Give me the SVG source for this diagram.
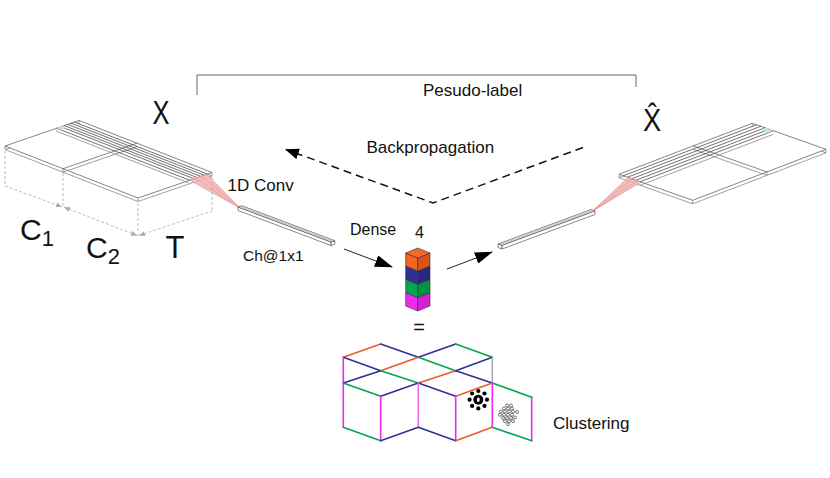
<svg xmlns="http://www.w3.org/2000/svg" width="830" height="478" viewBox="0 0 830 478">
<style>
.lbl{font-family:"Liberation Sans",Arial,sans-serif;fill:#111}
.wf{fill:none;stroke:#777;stroke-width:0.7}
.wft{fill:#fff;stroke:#666;stroke-width:0.8}
.strip{fill:none;stroke:#333;stroke-width:0.7}
.pink{fill:#f2b3b3;fill-opacity:0.85;stroke:#e08a8a;stroke-width:0.6}
.hl{fill:#bfe3f2;stroke:none}
.bar{fill:#fff;stroke:#555;stroke-width:0.7}
.dim{fill:none;stroke:#aaa;stroke-width:0.8;stroke-dasharray:3 2}
.cube{stroke:#3a2a2a;stroke-width:0.6}
.cl{fill:none;stroke-width:1.6;stroke-linecap:round}
.o{stroke:#f15a29}.b{stroke:#2e3192}.g{stroke:#00a651}.m{stroke:#ec2aec}.gr{stroke:#aaa}
.oc{fill:#fff;stroke:#222;stroke-width:0.6}
</style>
<defs>
<marker id="headBig" markerUnits="userSpaceOnUse" markerWidth="18" markerHeight="12" viewBox="0 0 18 12" refX="17" refY="6" orient="auto"><path d="M0,0 L18,6 L0,12 z" fill="#000"/></marker>
<marker id="headBp" markerUnits="userSpaceOnUse" markerWidth="14" markerHeight="11" viewBox="0 0 14 11" refX="13" refY="5.5" orient="auto"><path d="M0,0 L14,5.5 L0,11 z" fill="#000"/></marker>
<marker id="headDim" markerUnits="userSpaceOnUse" markerWidth="6" markerHeight="5" viewBox="0 0 6 5" refX="6" refY="2.5" orient="auto-start-reverse"><path d="M0,0 L6,2.5 L0,5 z" fill="#aaa"/></marker>
</defs>

<!-- Input slab X -->
<g id="input-slab">
  <polygon class="wf" points="5,149.5 79,124 212,176 138,201.5"/>
  <polygon class="wft" points="5,146 79,120.5 212,172.5 138,198"/>
  <line class="wf" x1="5" y1="146" x2="5" y2="149.5"/>
  <line class="wf" x1="138" y1="198" x2="138" y2="201.5"/>
  <line class="wf" x1="212" y1="172.5" x2="212" y2="176"/>
  <line class="wf" x1="79" y1="120.5" x2="79" y2="124"/>
  <line class="wf" x1="63" y1="168.7" x2="137" y2="143.2" style="stroke:#555"/>
  <line class="wf" x1="63" y1="172.2" x2="137" y2="146.7"/>
  <line class="wf" x1="63" y1="168.7" x2="63" y2="172.2"/>
  <line class="strip" x1="74.4" y1="122" x2="207.4" y2="174"/>
  <line class="strip" x1="70.9" y1="123.1" x2="203.9" y2="175.1"/>
  <line class="strip" x1="67.5" y1="124.3" x2="200.5" y2="176.3"/>
  <line class="strip" x1="64" y1="125.5" x2="197" y2="177.5"/>
  <line class="strip" x1="60.6" y1="126.6" x2="193.6" y2="178.6"/>
  <line class="strip" x1="56" y1="128" x2="189" y2="180"/>
  <line class="wf" x1="56" y1="131" x2="189" y2="183"/>
  <polygon class="hl" points="61.7,126.1 56,128 60.7,129.8 66.5,127.9"/>
  <polygon class="pink" points="189,179.8 207,174.3 240,208"/>
  <line x1="195" y1="178" x2="240" y2="208" stroke="#d88" stroke-width="0.5"/>
  <line x1="201" y1="176.2" x2="240" y2="208" stroke="#d88" stroke-width="0.5"/>
  <line class="dim" x1="5" y1="151" x2="5" y2="186"/>
  <line class="dim" x1="63" y1="173" x2="63" y2="207"/>
  <line class="dim" x1="138" y1="203" x2="138" y2="236"/>
  <line class="dim" x1="212" y1="177" x2="212" y2="211"/>
  <line class="dim" x1="5" y1="186" x2="62" y2="206.8" marker-end="url(#headDim)"/>
  <line class="dim" x1="64" y1="207.2" x2="137" y2="235.5" marker-start="url(#headDim)" marker-end="url(#headDim)"/>
  <line class="dim" x1="139" y1="235.5" x2="212" y2="211" marker-start="url(#headDim)"/>
</g>

<!-- Encoder output bar -->
<g id="encoder-bar">
  <polygon class="bar" points="238,207 331,242 331,245.5 238,210.5"/>
  <polygon class="bar" points="331,242 334.8,240.7 334.8,244.2 331,245.5"/>
  <polygon class="bar" points="238,207 241.8,205.7 334.8,240.7 331,242"/>
  <line x1="239.9" y1="206.35" x2="332.9" y2="241.35" stroke="#777" stroke-width="0.5"/>
</g>

<!-- Latent stack -->
<g id="latent-stack">
  <polygon class="cube" fill="#f26522" points="405.7,253 417.7,258 417.7,271.25 405.7,266.25"/>
  <polygon class="cube" fill="#d9531a" points="417.7,258 430,253 430,266.25 417.7,271.25"/>
  <polygon class="cube" fill="#2e3192" points="405.7,266.25 417.7,271.25 417.7,284.5 405.7,279.5"/>
  <polygon class="cube" fill="#252a80" points="417.7,271.25 430,266.25 430,279.5 417.7,284.5"/>
  <polygon class="cube" fill="#00a651" points="405.7,279.5 417.7,284.5 417.7,297.75 405.7,292.75"/>
  <polygon class="cube" fill="#009245" points="417.7,284.5 430,279.5 430,292.75 417.7,297.75"/>
  <polygon class="cube" fill="#ee2aee" points="405.7,292.75 417.7,297.75 417.7,311 405.7,306"/>
  <polygon class="cube" fill="#d620d6" points="417.7,297.75 430,292.75 430,306 417.7,311"/>
  <polygon class="cube" fill="#f26a2a" points="405.7,253 417.7,248 430,253 417.7,258"/>
</g>

<!-- Decoder input bar -->
<g id="decoder-bar">
  <polygon class="bar" points="498,244 591,209.5 595,211 502,245.5"/>
  <polygon class="bar" points="498,244 502,245.5 502,249 498,247.5"/>
  <polygon class="bar" points="502,245.5 595,211 595,214.5 502,249"/>
  <line x1="500" y1="244.75" x2="593" y2="210.25" stroke="#777" stroke-width="0.5"/>
</g>

<!-- Output slab X hat -->
<g id="output-slab">
  <polygon class="wf" points="619,177.8 752.3,126.8 826,152.8 692.7,203.8"/>
  <polygon class="wft" points="619,174.3 752.3,123.3 826,149.3 692.7,200.3"/>
  <line class="wf" x1="619" y1="174.3" x2="619" y2="177.8"/>
  <line class="wf" x1="692.7" y1="200.3" x2="692.7" y2="203.8"/>
  <line class="wf" x1="826" y1="149.3" x2="826" y2="152.8"/>
  <line class="wf" x1="752.3" y1="123.3" x2="752.3" y2="126.8"/>
  <line class="wf" x1="693.2" y1="145.9" x2="766.9" y2="171.9" style="stroke:#555"/>
  <line class="wf" x1="693.2" y1="149.4" x2="766.9" y2="175.4"/>
  <line class="wf" x1="766.9" y1="171.9" x2="766.9" y2="175.4"/>
  <line class="strip" x1="623.2" y1="175.8" x2="756.5" y2="124.8"/>
  <line class="strip" x1="627.4" y1="177.3" x2="760.7" y2="126.3"/>
  <line class="strip" x1="631.6" y1="178.8" x2="764.9" y2="127.8"/>
  <line class="strip" x1="635.8" y1="180.3" x2="769.1" y2="129.3"/>
  <line class="strip" x1="640" y1="181.8" x2="773.3" y2="130.8"/>
  <line class="wf" x1="640" y1="185.3" x2="773.3" y2="134.3"/>
  <polygon class="hl" points="765.6,127.8 773.3,130.8 768.6,132.6 760.9,129.6"/>
  <polygon class="pink" points="628,177.6 641,182.1 592,211.5"/>
  <line x1="632" y1="179" x2="592" y2="211.5" stroke="#d88" stroke-width="0.5"/>
  <line x1="637" y1="180.8" x2="592" y2="211.5" stroke="#d88" stroke-width="0.5"/>
</g>

<!-- Clustering visualisation -->
<g id="cluster-viz">
  <line class="cl o" x1="343.3" y1="357.3" x2="380.7" y2="344"/>
  <line class="cl b" x1="380.7" y1="344" x2="418.3" y2="357.3"/>
  <line class="cl b" x1="418.3" y1="357.3" x2="455.7" y2="344"/>
  <line class="cl g" x1="455.7" y1="344" x2="492.3" y2="357.3"/>
  <line class="cl b" x1="343.3" y1="357.3" x2="380.7" y2="370.7"/>
  <line class="cl o" x1="380.7" y1="370.7" x2="418.3" y2="357.3"/>
  <line class="cl g" x1="418.3" y1="357.3" x2="455.7" y2="370.7"/>
  <line class="cl b" x1="455.7" y1="370.7" x2="492.3" y2="357.3"/>
  <line class="cl gr" x1="492.3" y1="357.3" x2="492.3" y2="383"/>
  <line class="cl m" x1="343.3" y1="357.3" x2="343.3" y2="383"/>
  <line class="cl b" x1="343.3" y1="383" x2="380.7" y2="370.7"/>
  <line class="cl g" x1="380.7" y1="370.7" x2="418.3" y2="383"/>
  <line class="cl o" x1="418.3" y1="383" x2="455.7" y2="370.7"/>
  <line class="cl b" x1="455.7" y1="370.7" x2="492.3" y2="383"/>
  <line class="cl g" x1="343.3" y1="383" x2="380.7" y2="396.3"/>
  <line class="cl b" x1="380.7" y1="396.3" x2="418.3" y2="383"/>
  <line class="cl b" x1="418.3" y1="383" x2="455.7" y2="396.3"/>
  <line class="cl o" x1="455.7" y1="396.3" x2="492.3" y2="383"/>
  <line class="cl g" x1="492.3" y1="383" x2="531.7" y2="397.3"/>
  <line class="cl m" x1="343.3" y1="383" x2="343.3" y2="427.3"/>
  <line class="cl m" x1="380.7" y1="396.3" x2="380.7" y2="440.7"/>
  <line class="cl m" x1="418.3" y1="383" x2="418.3" y2="427.3" style="stroke:#f06af0"/>
  <line class="cl m" x1="455.7" y1="396.3" x2="455.7" y2="440.7"/>
  <line class="cl m" x1="492.3" y1="383" x2="492.3" y2="427.3"/>
  <line class="cl m" x1="531.7" y1="397.3" x2="531.7" y2="440.7"/>
  <line class="cl g" x1="343.3" y1="427.3" x2="380.7" y2="440.7"/>
  <line class="cl b" x1="380.7" y1="440.7" x2="418.3" y2="427.3"/>
  <line class="cl b" x1="418.3" y1="427.3" x2="455.7" y2="440.7"/>
  <line class="cl o" x1="455.7" y1="440.7" x2="492.3" y2="427.3"/>
  <line class="cl g" x1="492.3" y1="427.3" x2="531.7" y2="440.7"/>
  <g fill="#000">
    <circle cx="478.3" cy="399.7" r="5"/>
    <circle cx="478.3" cy="391" r="2.1"/>
    <circle cx="484.5" cy="393.5" r="2.1"/>
    <circle cx="487" cy="399.7" r="2.1"/>
    <circle cx="484.5" cy="405.9" r="2.1"/>
    <circle cx="478.3" cy="408.4" r="2.1"/>
    <circle cx="472.1" cy="405.9" r="2.1"/>
    <circle cx="469.6" cy="399.7" r="2.1"/>
    <circle cx="472.1" cy="393.5" r="2.1"/>
  </g>
  <ellipse cx="478.3" cy="399.7" rx="1.4" ry="2.3" fill="#fff"/>
  <g class="oc">
    <circle cx="507" cy="405.5" r="1.5"/><circle cx="511" cy="405.5" r="1.5"/>
    <circle cx="504" cy="408.5" r="1.5"/><circle cx="508" cy="408.5" r="1.5"/><circle cx="512" cy="408.5" r="1.5"/>
    <circle cx="501" cy="411.5" r="1.5"/><circle cx="505" cy="411.5" r="1.5"/><circle cx="509" cy="411.5" r="1.5"/><circle cx="513" cy="411.5" r="1.5"/><circle cx="517" cy="412" r="1.5"/>
    <circle cx="500" cy="414.8" r="1.5"/><circle cx="504" cy="414.8" r="1.5"/><circle cx="508" cy="414.8" r="1.5"/><circle cx="512" cy="414.8" r="1.5"/>
    <circle cx="503" cy="418" r="1.5"/><circle cx="507" cy="418" r="1.5"/><circle cx="511" cy="418" r="1.5"/><circle cx="515" cy="417.5" r="1.5"/>
    <circle cx="505" cy="421.2" r="1.5"/><circle cx="509" cy="421.2" r="1.5"/><circle cx="513" cy="421.2" r="1.5"/>
    <circle cx="508" cy="424.2" r="1.5"/>
  </g>
</g>

<!-- Connectors -->
<g id="connectors">
  <polyline points="197,95 197,75 636,75 636,87" fill="none" stroke="#666" stroke-width="1"/>
  <polyline points="583,147.5 433,203 286,149.5" fill="none" stroke="#111" stroke-width="1.5" stroke-dasharray="8 5" marker-end="url(#headBp)"/>
  <line x1="344" y1="249" x2="392" y2="267" stroke="#222" stroke-width="1" marker-end="url(#headBig)"/>
  <line x1="447" y1="269" x2="492" y2="252" stroke="#222" stroke-width="1" marker-end="url(#headBig)"/>
</g>

<!-- Labels -->
<g id="labels">
  <text class="lbl" x="161" y="123.7" font-size="34" text-anchor="middle" textLength="17" lengthAdjust="spacingAndGlyphs">X</text>
  <text class="lbl" transform="translate(652.2,130.7) scale(0.88,1)" x="0" y="0" font-size="31" text-anchor="middle">X̂</text>
  <text class="lbl" x="423" y="96" font-size="17">Pesudo-label</text>
  <text class="lbl" x="366.5" y="152.5" font-size="17">Backpropagation</text>
  <text class="lbl" x="227.5" y="191" font-size="17">1D Conv</text>
  <text class="lbl" x="243" y="261" font-size="15.5">Ch@1x1</text>
  <text class="lbl" x="350" y="234.5" font-size="16">Dense</text>
  <text class="lbl" x="419.5" y="238.3" font-size="16" text-anchor="middle">4</text>
  <text class="lbl" x="419" y="334" font-size="20" text-anchor="middle">=</text>
  <text class="lbl" x="553" y="428.5" font-size="17">Clustering</text>
  <text class="lbl" x="20" y="240" font-size="30">C<tspan font-size="22" dy="5.5">1</tspan></text>
  <text class="lbl" x="86" y="258.3" font-size="30">C<tspan font-size="22" dy="5.7">2</tspan></text>
  <text class="lbl" x="175" y="258.3" font-size="31" text-anchor="middle">T</text>
</g>
</svg>
